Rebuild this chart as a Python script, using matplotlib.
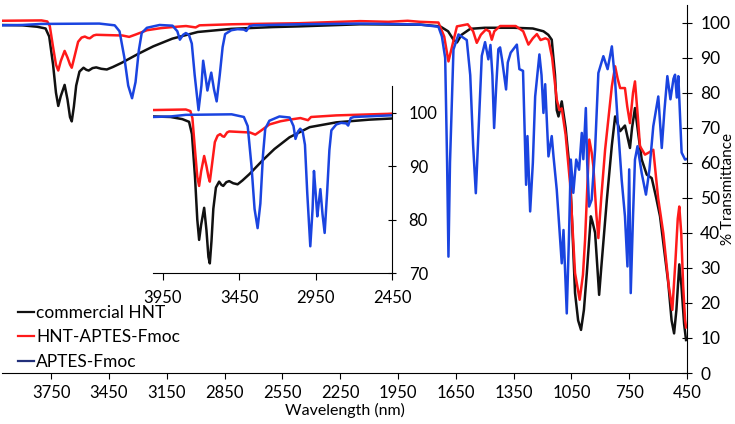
import matplotlib
matplotlib.use("Agg")
import matplotlib.pyplot as plt

plt.rcParams['font.family'] = ['Lato', 'DejaVu Sans']

# commercial HNT
wn_hnt = [4015, 3900, 3823, 3779, 3760, 3740, 3725, 3713, 3700, 3680, 3665, 3652, 3643, 3632,
          3620, 3603, 3582, 3567, 3555, 3535, 3516, 3490, 3461, 3430, 3384, 3300, 3253, 3220,
          3121, 2989, 2814, 2600, 2463, 2146, 1900, 1835, 1731, 1690, 1662, 1644, 1620, 1575,
          1500, 1350, 1250, 1195, 1170, 1152, 1135, 1126, 1117, 1100, 1080, 1057, 1031, 1015,
          1000, 985, 970, 949, 940, 927, 915, 906, 895, 866, 840, 823, 797, 772, 746, 735, 720,
          700, 685, 659, 633, 610, 590, 547, 530, 517, 505, 490, 479, 465, 455]
t_hnt = [99.3, 99.2, 98.8, 98.3, 96, 88, 80, 76.2, 79, 82.2, 78, 73, 71.8, 76,
         82, 86, 87.1, 86.5, 86.3, 87, 87.2, 86.8, 86.6, 87.3, 88.5, 91, 92.3, 93.2,
         95.4, 97.3, 98.2, 98.7, 98.9, 99.5, 99.4, 99.4, 98.9, 97.5, 95.1, 94.3, 96.5, 98.2,
         98.5, 98.5, 98.3, 97.5, 96.5, 95.1, 85, 75, 73.2, 77.5, 70, 57, 22.8, 15,
         12.3, 18, 28.5, 44.7, 43, 40, 30, 22.3, 30, 49.4, 65, 73.2, 69, 70.6, 64.2, 70, 75.6,
         67, 60.9, 56.6, 55.6, 50, 44.7, 25.6, 15, 11.3, 18, 31, 25, 14, 9.4]

# HNT-APTES-Fmoc
wn_hnt_fmoc = [4015, 3800, 3770, 3757, 3740, 3725, 3713, 3700, 3680, 3665, 3652, 3643, 3630, 3610,
               3592, 3575, 3560, 3549, 3530, 3516, 3450, 3380, 3345, 3310, 3253, 3180, 3121, 3050,
               3000, 2980, 2814, 2463, 2146, 2000, 1900, 1835, 1740, 1710, 1688, 1670, 1644, 1588,
               1560, 1541, 1520, 1494, 1475, 1463, 1450, 1420, 1339, 1300, 1273, 1250, 1229, 1210,
               1185, 1169, 1150, 1126, 1112, 1100, 1080, 1057, 1031, 1007, 990, 979, 957, 945, 936,
               920, 910, 895, 875, 840, 823, 810, 797, 772, 760, 746, 730, 720, 705, 694, 668, 645,
               625, 600, 573, 545, 526, 510, 498, 490, 480, 470, 460, 455]
t_hnt_fmoc = [100.5, 100.6, 100.3, 99, 93, 88, 86.3, 89, 91.9, 90, 88, 87.1, 90, 94.5,
              95.7, 96, 95.6, 95.5, 96.3, 96.5, 96.4, 96.3, 95.9, 96.6, 97.8, 98.4, 98.7, 99,
              98.6, 99.2, 99.5, 99.8, 100.4, 100.2, 100.5, 100.2, 100, 96, 88.9, 93, 98.9, 99.5,
              97.5, 94.2, 96.5, 98, 97.5, 95.1, 97.5, 99, 99, 97.5, 93.7, 95.5, 96.7, 95,
              95.5, 95.1, 90, 78, 75, 75.5, 68, 54.2, 28.5, 20.9, 28, 38, 66.6, 63, 59,
              45, 38.5, 50, 63.7, 81.8, 87.5, 84, 81.3, 81.3, 76, 71.3, 80, 83.2, 73, 64.7, 62.3, 63,
              63.7, 50, 39.9, 25, 18, 32, 44, 47.5, 40, 25, 15.1, 13]

# APTES-Fmoc
wn_fmoc = [4015, 3900, 3800, 3500, 3420, 3395, 3370, 3350, 3330, 3312, 3295, 3280, 3253, 3187,
           3120, 3095, 3082, 3065, 3051, 3035, 3020, 3005, 2985, 2970, 2961, 2950, 2939, 2930,
           2919, 2905, 2891, 2875, 2860, 2847, 2815, 2783, 2750, 2737, 2720, 2700, 2463, 2146,
           1900, 1835, 1740, 1722, 1705, 1695, 1688, 1680, 1662, 1636, 1593, 1575, 1560, 1546,
           1535, 1515, 1498, 1481, 1470, 1460, 1451, 1440, 1429, 1420, 1410, 1389, 1380, 1365,
           1333, 1320, 1301, 1285, 1278, 1264, 1250, 1238, 1216, 1205, 1195, 1186, 1169, 1152,
           1143, 1126, 1100, 1091, 1074, 1062, 1053, 1040, 1025, 1010, 996, 988, 975, 968, 958,
           945, 927, 910, 884, 862, 840, 823, 806, 789, 772, 759, 750, 742, 730, 720, 707, 685,
           663, 645, 625, 599, 581, 567, 552, 536, 520, 512, 503, 495, 478, 460, 455]
t_fmoc = [99.2, 99.3, 99.6, 99.7, 99.2, 97.5, 90, 82, 78.4, 83, 92, 97, 98.5, 99.3,
          99.1, 97.5, 95.1, 96.5, 97, 96.5, 94, 85, 75, 82, 89.1, 85, 80.6, 83,
          85.7, 81, 77.5, 85, 93, 96.7, 97.8, 98.1, 98, 97.6, 99, 99.2, 99.5, 99.7,
          99.5, 99.4, 98.8, 96, 89.9, 60, 33.2, 60, 92.3, 96.6, 95, 85, 65, 51.3,
          65, 90.5, 94.4, 89.5, 93.6, 85, 69.9, 82, 92.4, 92.9, 89.5, 80.9, 88.6, 91.4,
          93.7, 86.7, 86.2, 53.7, 67.6, 46.1, 60, 78.9, 90.9, 85, 74.2, 82.4, 61.8, 67.6,
          61.9, 52.3, 31.3, 40.8, 17, 40, 60.9, 51.4, 60.9, 58, 68.5, 61, 75.6, 60, 47.5,
          49.4, 63.7, 85.6, 90.4, 86.7, 93.2, 83.2, 68.5, 55.1, 44.7, 30.4, 58.1, 22.8, 45, 60.9, 64.7, 57,
          50.9, 58, 70.4, 78.9, 64.2, 75, 84.7, 78.1, 84, 85.1, 78.6, 84.7, 62.9, 60.9, 61]

labels = ['commercial HNT', 'HNT-APTES-Fmoc', 'APTES-Fmoc']
colors = ['#111111', '#ff1a1a', '#1a44e0']
series = [(wn_hnt, t_hnt), (wn_hnt_fmoc, t_hnt_fmoc), (wn_fmoc, t_fmoc)]

fig = plt.figure(figsize=(7.35, 4.24), dpi=100)
ax = fig.add_axes([2 / 735, 51 / 424, 685 / 735, 368 / 424])

for (x, y), c, lab in zip(series, colors, labels):
    ax.plot(x, y, color=c, lw=1.8, label=lab)

ax.set_xlim(4005, 450)
ax.set_ylim(0, 105)
ax.set_xticks(range(3750, 449, -300))
ax.set_yticks(range(0, 101, 10))
ax.yaxis.tick_right()
for s in ['top', 'left']:
    ax.spines[s].set_visible(False)
ax.tick_params(axis='x', direction='out', length=4, labelsize=12, pad=5)
ax.tick_params(axis='y', direction='inout', length=7, labelsize=12.5, pad=6)
ax.set_xlabel('Wavelength (nm)', fontsize=11.5, labelpad=1)
ax.set_ylabel('% Transmittance', fontsize=11, rotation=90)
ax.yaxis.set_label_position('right')
ax.yaxis.set_label_coords(719 / 685, 0.5)

# inset
axi = fig.add_axes([153 / 735, 151 / 424, 239 / 735, 187 / 424])
axi.set_facecolor('none')
for (x, y), c in zip(series, colors):
    axi.plot(x, y, color=c, lw=1.8)
axi.set_xlim(4015, 2450)
axi.set_ylim(70, 105)
axi.set_xticks([3950, 3450, 2950, 2450])
axi.set_yticks([70, 80, 90, 100])
axi.yaxis.tick_right()
for s in ['top', 'left']:
    axi.spines[s].set_visible(False)
axi.tick_params(axis='x', direction='out', length=5, labelsize=12, pad=7)
axi.tick_params(axis='y', direction='inout', length=6, labelsize=12, pad=9)

handles = [plt.Line2D([], [], color=c, lw=1.6) for c in ['#111111', '#ff1a1a', '#22307a']]
fig.legend(handles, labels, loc='lower left', bbox_to_anchor=(18 / 735, 1 - 370 / 424),
           frameon=False, fontsize=12.5, handlelength=0.9, handletextpad=0.15,
           labelspacing=0.5, borderpad=0, borderaxespad=0)

fig.savefig('out.png', dpi=100)
